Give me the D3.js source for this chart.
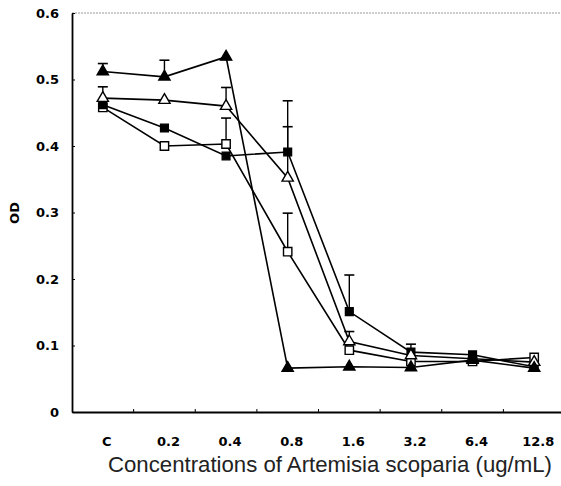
<!DOCTYPE html>
<html>
<head>
<meta charset="utf-8">
<script src="https://cdn.jsdelivr.net/npm/d3@7"></script>
<style>
  body { margin: 0; background: #fff; }
  svg { display: block; }
  .tick text { font-family: "DejaVu Sans", sans-serif; font-weight: bold; }
</style>
</head>
<body>
<div id="container"></div>
<script>
// chart size, same as the window
let w = 561;
let h = 486;
let margin = {top: 13, right: -4, bottom: 74, left: 72};

// data
let categories = ["C", "0.2", "0.4", "0.8", "1.6", "3.2", "6.4", "12.8"];
let yTicks = [0, 0.1, 0.2, 0.3, 0.4, 0.5, 0.6];
let yTickLabels = ["0", "0.1", "0.2", "0.3", "0.4", "0.5", "0.6"];

let filledTri = [0.512, 0.504, 0.534, 0.066, 0.068, 0.067, 0.078, 0.066];
let filledTriErr = [0.012, 0.025, 0, 0, 0, 0, 0, 0];
let openTri = [0.472, 0.469, 0.460, 0.352, 0.106, 0.085, 0.080, 0.075];
let openTriErr = [0.017, 0, 0.028, 0.077, 0.015, 0, 0, 0];
let filledSq = [0.462, 0.427, 0.385, 0.391, 0.151, 0.090, 0.086, 0.068];
let filledSqErr = [0, 0, 0, 0.077, 0.055, 0.012, 0, 0];
let openSq = [0.458, 0.400, 0.403, 0.241, 0.093, 0.076, 0.076, 0.082];
let openSqErr = [0, 0, 0.039, 0.058, 0, 0, 0, 0];

let series = [
    {name: "openSq", values: openSq, err: openSqErr, shape: d3.symbolSquare, fill: "#fff", size: 70},
    {name: "filledSq", values: filledSq, err: filledSqErr, shape: d3.symbolSquare, fill: "#000", size: 60},
    {name: "openTri", values: openTri, err: openTriErr, shape: d3.symbolTriangle, fill: "#fff", size: 55},
    {name: "filledTri", values: filledTri, err: filledTriErr, shape: d3.symbolTriangle, fill: "#000", size: 55}
];

let svg = d3.select("div#container").append("svg")
    .attr("width", w).attr("height", h);

let x = d3.scaleBand().domain(categories)
    .range([margin.left, w - margin.right]);
let y = d3.scaleLinear().domain([0, 0.6])
    .range([h - margin.bottom, margin.top]);

// top frame line (faint)
svg.append("line")
    .attr("x1", margin.left).attr("x2", w)
    .attr("y1", y(0.6)).attr("y2", y(0.6))
    .attr("stroke", "#999").attr("stroke-width", 1)
    .attr("stroke-dasharray", "2,1");

// y axis, ticks pointing inwards
let yAxis = svg.append("g")
    .attr("transform", "translate(" + margin.left + ",0)")
    .call(d3.axisLeft(y).tickValues(yTicks)
        .tickFormat((d, i) => yTickLabels[i])
        .tickSizeInner(-3).tickSizeOuter(0).tickPadding(13));
yAxis.select(".domain").attr("stroke-width", 1.8);
yAxis.selectAll(".tick text").attr("font-size", 13);

// x axis, ticks between categories
let xAxis = svg.append("g")
    .attr("transform", "translate(0," + y(0) + ")")
    .call(d3.axisBottom(x).tickSizeInner(0).tickSizeOuter(0).tickPadding(25));
xAxis.select(".domain").attr("stroke-width", 1.8);
xAxis.selectAll(".tick text").attr("font-size", 13).attr("dx", 4);
xAxis.selectAll(".sep")
    .data(categories.slice(1))
    .enter().append("line")
    .attr("class", "sep")
    .attr("x1", d => x(d)).attr("x2", d => x(d))
    .attr("y1", 0).attr("y2", -3)
    .attr("stroke", "#000");

// axis titles
svg.append("text")
    .attr("transform", "translate(19,213) rotate(-90)")
    .attr("text-anchor", "middle")
    .attr("font-family", "DejaVu Sans, sans-serif")
    .attr("font-weight", "bold")
    .attr("font-size", 13)
    .text("OD");
svg.append("text")
    .attr("x", 330).attr("y", 472)
    .attr("text-anchor", "middle")
    .attr("font-family", "Liberation Sans, Arial, sans-serif")
    .attr("font-size", 21.5)
    .attr("textLength", 444)
    .attr("lengthAdjust", "spacingAndGlyphs")
    .attr("fill", "#222")
    .text("Concentrations of Artemisia scoparia (ug/mL)");

let cx = d => x(d) + x.bandwidth() / 2;

let line = d3.line()
    .x((d, i) => cx(categories[i]))
    .y(d => y(d));

series.forEach(s => {
    let g = svg.append("g").attr("class", s.name);

    g.append("path")
        .attr("d", line(s.values))
        .attr("fill", "none")
        .attr("stroke", "#000")
        .attr("stroke-width", 1.6);

    // upward error bars with caps
    let bars = s.values.map((v, i) => ({c: categories[i], v: v, e: s.err[i]}))
        .filter(d => d.e > 0);
    g.selectAll(".err").data(bars).enter().append("line")
        .attr("x1", d => cx(d.c)).attr("x2", d => cx(d.c))
        .attr("y1", d => y(d.v)).attr("y2", d => y(d.v + d.e))
        .attr("stroke", "#000").attr("stroke-width", 1.4);
    g.selectAll(".cap").data(bars).enter().append("line")
        .attr("x1", d => cx(d.c) - 5).attr("x2", d => cx(d.c) + 5)
        .attr("y1", d => y(d.v + d.e)).attr("y2", d => y(d.v + d.e))
        .attr("stroke", "#000").attr("stroke-width", 1.6);

    g.selectAll(".mark").data(s.values).enter().append("path")
        .attr("transform", (d, i) => "translate(" + cx(categories[i]) + "," + y(d) + ")")
        .attr("d", d3.symbol().type(s.shape).size(s.size))
        .attr("fill", s.fill)
        .attr("stroke", "#000")
        .attr("stroke-width", 1.4);
});
</script>
</body>
</html>
